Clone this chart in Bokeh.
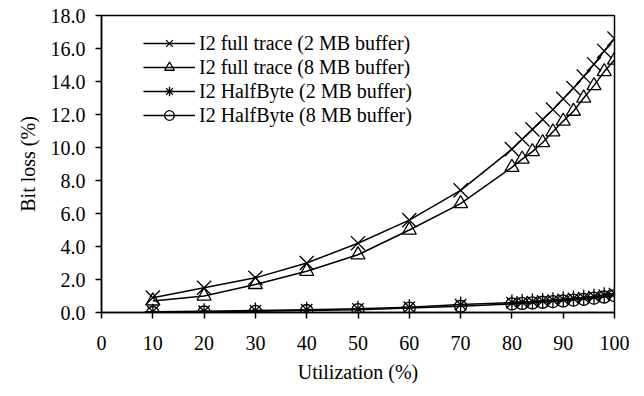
from bokeh.plotting import figure
from bokeh.models import Range1d, FixedTicker, PrintfTickFormatter, Legend, LegendItem
from bokeh.embed import file_html
from bokeh.resources import INLINE

util = [10, 20, 30, 40, 50, 60, 70, 80, 82, 84, 86, 88, 90, 92, 94, 96, 98, 100]
full_2mb = [0.9, 1.5, 2.1, 3.0, 4.2, 5.6, 7.4, 9.9, 10.5, 11.1, 11.7, 12.3, 12.95, 13.6, 14.3, 15.05, 15.85, 16.6]
full_8mb = [0.7, 1.0, 1.7, 2.5, 3.5, 5.0, 6.6, 8.8, 9.3, 9.75, 10.3, 10.95, 11.6, 12.2, 13.0, 13.75, 14.6, 15.3]
hb_2mb = [0.05, 0.08, 0.12, 0.17, 0.22, 0.32, 0.48, 0.6, 0.63, 0.66, 0.7, 0.75, 0.8, 0.85, 0.9, 0.96, 1.05, 1.15]
hb_8mb = [0.0, 0.03, 0.07, 0.12, 0.17, 0.27, 0.38, 0.52, 0.55, 0.58, 0.62, 0.66, 0.7, 0.75, 0.8, 0.87, 0.94, 1.02]

labels = ["I2 full trace (2 MB buffer)", "I2 full trace (8 MB buffer)",
          "I2 HalfByte (2 MB buffer)", "I2 HalfByte (8 MB buffer)"]
series = [full_2mb, full_8mb, hb_2mb, hb_8mb]
markers = ["x", "triangle", "asterisk", "circle"]
sizes = [20, 14, 16, 12]

x_ticks = [0, 10, 20, 30, 40, 50, 60, 70, 80, 90, 100]
y_ticks = [0, 2, 4, 6, 8, 10, 12, 14, 16, 18]

FONT = "Liberation Serif"

p = figure(width=644, height=396, output_backend="svg", toolbar_location=None,
           x_range=Range1d(0, 100), y_range=Range1d(0, 18),
           min_border_left=101, min_border_right=30, min_border_top=15, min_border_bottom=84)
p.background_fill_color = "white"
p.border_fill_color = "white"
p.outline_line_color = "black"
p.outline_line_width = 1.5
p.xgrid.visible = False
p.ygrid.visible = False

items = []
for ys, lab, m, s in zip(series, labels, markers, sizes):
    r1 = p.line(util, ys, line_color="black", line_width=1.5)
    r2 = p.scatter(util, ys, marker=m, size=s, line_color="black", line_width=1.3,
                   fill_color=None)
    items.append(LegendItem(label=lab, renderers=[r1, r2]))

for ax in (p.xaxis[0], p.yaxis[0]):
    ax.axis_line_color = "black"
    ax.axis_line_width = 1.5
    ax.major_tick_line_color = "black"
    ax.major_tick_line_width = 1.5
    ax.major_tick_in = 0
    ax.major_tick_out = 6
    ax.minor_tick_line_color = None
    ax.major_label_text_font = FONT
    ax.major_label_text_font_size = "20px"
    ax.major_label_text_color = "black"
    ax.axis_label_text_font = FONT
    ax.axis_label_text_font_size = "20px"
    ax.axis_label_text_font_style = "normal"
    ax.axis_label_text_color = "black"

p.xaxis.ticker = FixedTicker(ticks=x_ticks)
p.yaxis.ticker = FixedTicker(ticks=y_ticks)
p.yaxis.formatter = PrintfTickFormatter(format="%.1f")
p.xaxis.axis_label = "Utilization (%)"
p.yaxis.axis_label = "Bit loss (%)"
p.xaxis.major_label_standoff = 17
p.yaxis.major_label_standoff = 10
p.xaxis.axis_label_standoff = 8
p.yaxis.axis_label_standoff = 9

legend = Legend(items=items, location=(42, 185))
legend.background_fill_alpha = 0
legend.border_line_color = None
legend.padding = 0
legend.margin = 0
legend.spacing = 0
legend.glyph_width = 52
legend.glyph_height = 24
legend.label_height = 24
legend.label_standoff = 4
legend.label_text_font = FONT
legend.label_text_font_size = "20px"
legend.label_text_color = "black"
p.add_layout(legend, "center")

open("out.html", "w").write(file_html(p, INLINE))
